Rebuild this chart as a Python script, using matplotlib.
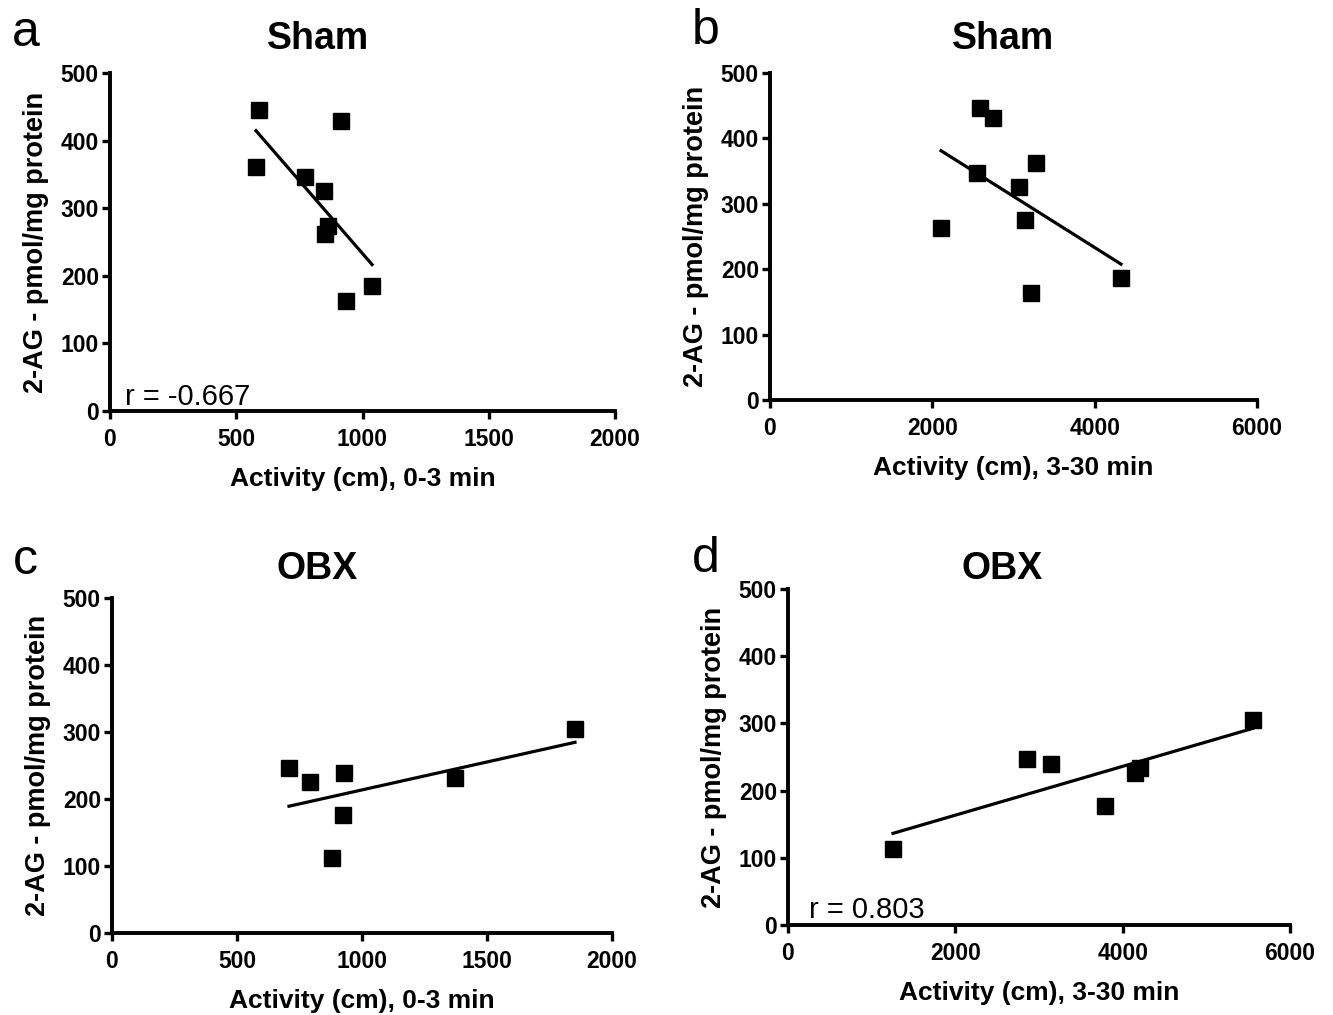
import matplotlib
matplotlib.use("Agg")
import matplotlib.pyplot as plt
import numpy as np

# donnees
sham_x_early = [590, 578, 772, 848, 915, 863, 851, 935, 1038]
sham_y_early = [445, 361, 346, 325, 429, 274, 262, 163, 185]
sham_x_late = [2107, 2587, 2747, 2550, 3277, 3068, 3141, 3215, 4324]
sham_y_late = [263, 446, 431, 347, 362, 326, 275, 164, 187]
obx_x_early = [708, 792, 928, 924, 880, 1372, 1852]
obx_y_early = [246, 225, 239, 176, 112, 231, 304]
obx_x_late = [1255, 2857, 3143, 3789, 4147, 4207, 5558]
obx_y_late = [113, 247, 240, 177, 226, 234, 305]

titles = ["Sham", "Sham", "OBX", "OBX"]
letters = ["a", "b", "c", "d"]
xlabels = ["Activity (cm), 0-3 min", "Activity (cm), 3-30 min",
           "Activity (cm), 0-3 min", "Activity (cm), 3-30 min"]
ylabel = "2-AG - pmol/mg protein"
r_texts = ["r = -0.667", None, None, "r = 0.803"]

W, H = 1333, 1015
fig = plt.figure(figsize=(W / 100, H / 100), dpi=100)
font = ["Liberation Sans", "DejaVu Sans"]


def px_axes(left, right, top, bottom):
    return fig.add_axes([left / W, 1 - bottom / H, (right - left) / W, (bottom - top) / H])


# position des axes en pixels (gauche, droite, haut, bas)
boxes = [(110, 615, 73, 411), (770, 1257, 73, 400),
         (112, 612, 598, 933), (788, 1290, 589, 925)]
data = [(sham_x_early, sham_y_early), (sham_x_late, sham_y_late),
        (obx_x_early, obx_y_early), (obx_x_late, obx_y_late)]
xmax = [2000, 6000, 2000, 6000]
xstep = [500, 2000, 500, 2000]
title_pos = [(318, 39), (1003, 39), (317, 569), (1002, 569)]
letter_pos = [(26, 33), (706, 31), (25, 561), (706, 559)]
r_pos = [(60, 0), None, None, (250, 2)]

for i in range(4):
    ax = px_axes(*boxes[i])
    x, y = np.array(data[i][0]), np.array(data[i][1])
    ax.plot(x, y, "s", color="black", ms=11, clip_on=False)
    a, b = np.polyfit(x, y, 1)
    xl = np.array([x.min(), x.max()])
    ax.plot(xl, a * xl + b, color="black", lw=2.3)

    ax.set_xlim(0, xmax[i])
    ax.set_ylim(0, 500)
    ax.set_xticks(np.arange(0, xmax[i] + 1, xstep[i]))
    ax.set_yticks(np.arange(0, 501, 100))
    for s in ["top", "right"]:
        ax.spines[s].set_visible(False)
    for s in ["left", "bottom"]:
        ax.spines[s].set_linewidth(2.8)
    ax.tick_params(width=2.4, length=6, direction="out")
    ax.tick_params(axis="x", pad=6)
    ax.tick_params(axis="y", pad=2)
    for lab in ax.get_xticklabels() + ax.get_yticklabels():
        lab.set_fontfamily(font)
        lab.set_fontweight("bold")
        lab.set_fontsize(16.5)

    ax.set_xlabel(xlabels[i], fontsize=19, fontweight="bold", family=font, labelpad=12)
    ax.set_ylabel(ylabel, fontsize=19.5, fontweight="bold", family=font, labelpad=8)

    if r_texts[i]:
        ax.text(r_pos[i][0], r_pos[i][1], r_texts[i], fontsize=21, family=font,
                va="bottom", ha="left")

    fig.text(title_pos[i][0] / W, 1 - title_pos[i][1] / H, titles[i], fontsize=27,
             fontweight="bold", family=font, ha="center", va="center")
    fig.text(letter_pos[i][0] / W, 1 - letter_pos[i][1] / H, letters[i], fontsize=36,
             family=font, ha="center", va="center")

fig.savefig("out.png", dpi=100, facecolor="white")
